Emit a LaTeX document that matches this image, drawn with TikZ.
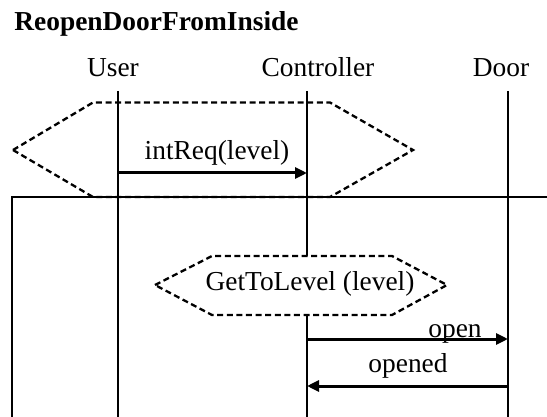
\documentclass[tikz,border=0pt]{standalone}
\usepackage{fontspec}
\setmainfont{Liberation Serif}
\usetikzlibrary{arrows.meta}
\tikzset{
  lbl/.style={inner sep=0pt, anchor=base, font=\fontsize{13.7}{16}\selectfont},
  lifeline/.style={line width=0.6pt},
  msg/.style={line width=1.5pt, -{Triangle[length=6pt,width=5.5pt]}},
  refbox/.style={line width=1.15pt, dash pattern=on 3pt off 1.8pt},
}
\begin{document}
\begin{tikzpicture}[x=0.5pt,y=-0.5pt]
\useasboundingbox (0,0) rectangle (547,417);

% title and participant headers
\node[lbl, anchor=base west, font=\fontsize{13.7}{16}\selectfont\bfseries] (title) at (14,31) {ReopenDoorFromInside};
\node[lbl] (user) at (113,77) {User};
\node[lbl] (ctrl) at (318,77) {Controller};
\node[lbl] (door) at (501,77) {Door};

% lifelines
\coordinate (uT) at (118,91);  \coordinate (uB) at (118,417);
\coordinate (cT) at (307,91);  \coordinate (cB) at (307,417);
\coordinate (dT) at (508,91);  \coordinate (dB) at (508,417);
\draw[lifeline] (uT) -- (uB);
\draw[lifeline] (cT) -- (cB);
\draw[lifeline] (dT) -- (dB);

% frame
\coordinate (fA) at (12,417);
\coordinate (fB) at (12,197);
\coordinate (fC) at (547,197);
\draw[lifeline] (fA) -- (fB) -- (fC);

% first reference hexagon
\draw[refbox] (13,150) -- (93,102.5) -- (330,102.5) -- (413,150) -- (330,197) -- (93,197) -- cycle;

% intReq message
\coordinate (m1s) at (118,173);
\coordinate (m1e) at (307,173);
\draw[msg] (m1s) -- (m1e);
\node[lbl] (m1l) at (217,160) {intReq(level)};

% second reference hexagon
\draw[refbox, fill=white] (155,285) -- (212,256) -- (392,256) -- (447,285) -- (392,315) -- (212,315) -- cycle;
\node[lbl] (ref2) at (310,291) {GetToLevel (level)};

% open / opened messages
\coordinate (m2s) at (307,339);
\coordinate (m2e) at (508,339);
\draw[msg] (m2s) -- (m2e);
\node[lbl] (m2l) at (455,337) {open};

\coordinate (m3s) at (508,386);
\coordinate (m3e) at (307,386);
\draw[msg] (m3s) -- (m3e);
\node[lbl] (m3l) at (408,372) {opened};
\end{tikzpicture}
\end{document}
